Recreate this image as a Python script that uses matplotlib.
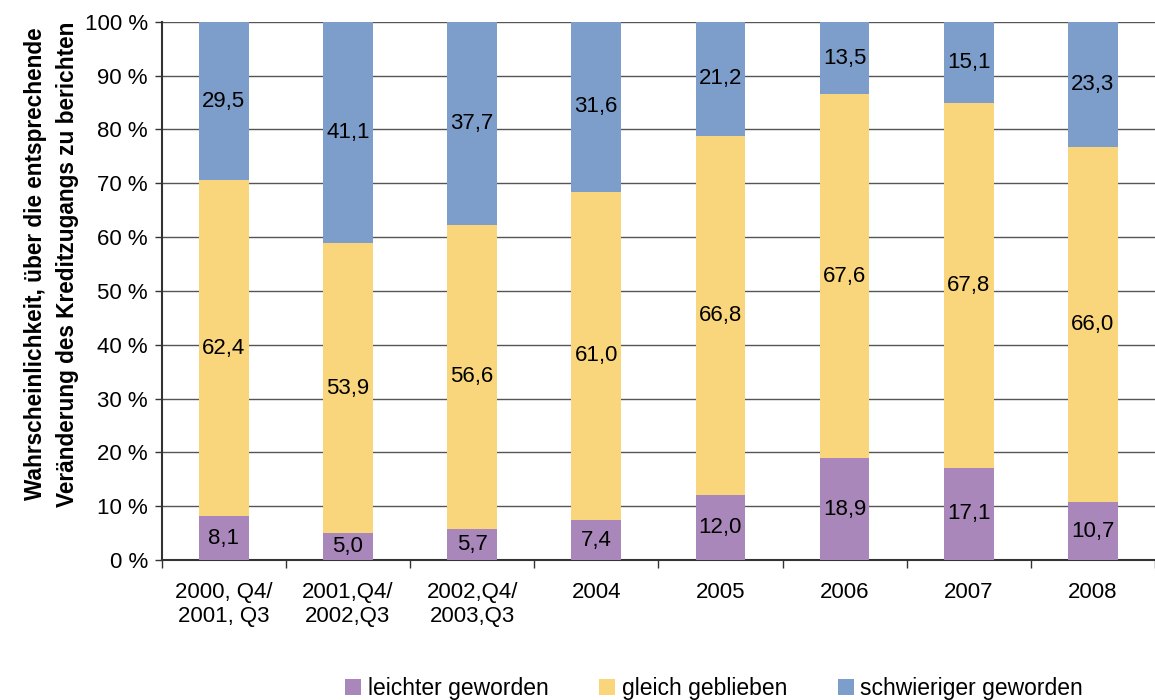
import matplotlib.pyplot as plt
import numpy as np

plt.rcParams['font.family'] = ['Liberation Sans', 'DejaVu Sans']

categories = ['2000, Q4/\n2001, Q3', '2001,Q4/\n2002,Q3', '2002,Q4/\n2003,Q3',
              '2004', '2005', '2006', '2007', '2008']
leichter = [8.1, 5.0, 5.7, 7.4, 12.0, 18.9, 17.1, 10.7]
gleich = [62.4, 53.9, 56.6, 61.0, 66.8, 67.6, 67.8, 66.0]
schwieriger = [29.5, 41.1, 37.7, 31.6, 21.2, 13.5, 15.1, 23.3]

series = [('leichter geworden', leichter, '#A987BA'),
          ('gleich geblieben', gleich, '#F9D57B'),
          ('schwieriger geworden', schwieriger, '#7D9DCA')]

fig = plt.figure(figsize=(11.55, 7.0), dpi=100)
ax = fig.add_axes([0.140, 0.200, 0.860, 0.769])

x = np.arange(len(categories))
bottom = np.zeros(len(categories))
for name, vals, color in series:
    vals = np.array(vals)
    ax.bar(x, vals, 0.4, bottom=bottom, color=color, label=name, zorder=3)
    for xi, b, v in zip(x, bottom, vals):
        ax.text(xi, b + v / 2, f'{v:.1f}'.replace('.', ','), ha='center',
                va='center', fontsize=16, zorder=4)
    bottom += vals

ax.set_xlim(-0.5, len(categories) - 0.5)
ax.set_ylim(0, 100)
ax.set_yticks(range(0, 101, 10))
ax.set_yticklabels([f'{v} %' for v in range(0, 101, 10)], fontsize=16)
ax.yaxis.grid(True, color='#555555', linewidth=1, zorder=0)

ax.set_xticks(x)
ax.set_xticklabels(categories, fontsize=16, linespacing=1.15)
ax.tick_params(axis='x', length=0, pad=16)
ax.set_xticks(np.arange(-0.5, len(categories), 1), minor=True)
ax.tick_params(axis='x', which='minor', length=6, width=1, color='#333333')
ax.tick_params(axis='y', length=5, width=1, color='#333333', pad=5)

for s in ['top', 'right']:
    ax.spines[s].set_visible(False)
ax.spines['left'].set_color('#333333')
ax.spines['bottom'].set_color('#333333')
ax.spines['left'].set_linewidth(1.5)
ax.spines['bottom'].set_linewidth(1.5)

ax.set_ylabel('Wahrscheinlichkeit, über die entsprechende\nVeränderung des Kreditzugangs zu berichten',
              fontsize=16.3, fontweight='bold', linespacing=1.5)
ax.yaxis.set_label_coords(-0.083, 0.55)

ax.legend(loc='center', bbox_to_anchor=(0.556, -0.238), ncol=3, frameon=False,
          fontsize=16.5, handlelength=0.7, handleheight=0.7, handletextpad=0.3,
          columnspacing=2.2)

fig.savefig('out.png', dpi=100)
